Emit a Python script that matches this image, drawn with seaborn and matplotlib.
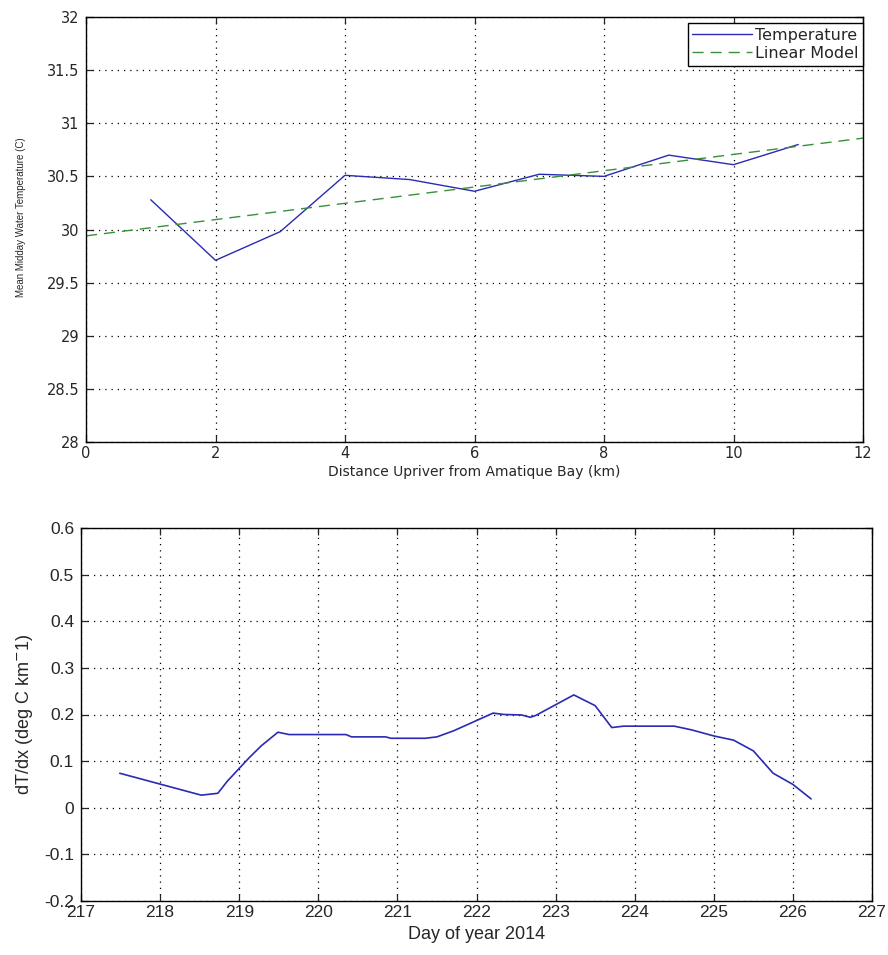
import numpy as np
import pandas as pd
import matplotlib
matplotlib.use('Agg')
import matplotlib.pyplot as plt
import seaborn as sns

# --- data ---
distance_km = [1, 2, 3, 4, 5, 6, 7, 8, 9, 10, 11]
mean_temp = [30.28, 29.71, 29.98, 30.51, 30.47, 30.36, 30.52, 30.50, 30.70, 30.61, 30.80]

model_x = [0, 12]
model_y = [29.94, 30.86]

day_of_year = [217.49, 218.52, 218.73, 218.85, 219.13, 219.28, 219.49, 219.63, 220.35,
               220.42, 220.85, 220.92, 221.35, 221.50, 221.71, 222.21, 222.35, 222.57,
               222.68, 222.75, 223.23, 223.50, 223.71, 223.86, 224.50, 224.72, 225.00,
               225.25, 225.50, 225.75, 226.00, 226.23]
dTdx = [0.074, 0.027, 0.031, 0.057, 0.108, 0.133, 0.162, 0.157, 0.157,
        0.152, 0.152, 0.149, 0.149, 0.152, 0.165, 0.203, 0.200, 0.199,
        0.194, 0.198, 0.242, 0.219, 0.172, 0.175, 0.175, 0.167, 0.154,
        0.145, 0.122, 0.074, 0.050, 0.019]

sns.set_style('white')
plt.rcParams['font.family'] = ['Liberation Sans', 'DejaVu Sans']

fig = plt.figure(figsize=(8.88, 9.55), dpi=100)
W, H = 888, 955
ax1 = fig.add_axes([86 / W, 1 - 442 / H, (863 - 86) / W, (442 - 17) / H])
ax2 = fig.add_axes([81 / W, 1 - 901 / H, (872 - 81) / W, (901 - 528) / H])

blue = '#2a2ab4'
green = '#3a8f3a'
wide = ['DejaVu Sans']

# --- top panel ---
sns.lineplot(x=distance_km, y=mean_temp, ax=ax1, color=blue, linewidth=1.0,
             sort=False, label='Temperature')
sns.lineplot(x=model_x, y=model_y, ax=ax1, color=green, linewidth=1.0,
             linestyle=(0, (8, 5)), label='Linear Model')
ax1.set_xlim(0, 12)
ax1.set_ylim(28, 32)
ax1.set_xticks(np.arange(0, 13, 2))
ax1.set_yticks(np.arange(28, 32.01, 0.5))
ax1.set_yticklabels(['28', '28.5', '29', '29.5', '30', '30.5', '31', '31.5', '32'])
ax1.set_xlabel('Distance Upriver from Amatique Bay (km)', fontsize=10, family=wide, labelpad=3)
ax1.set_ylabel('Mean Midday Water Temperature (C)', fontsize=7)
ax1.yaxis.set_label_coords(-0.077, 0.53)
leg = ax1.legend(loc='upper right', bbox_to_anchor=(1.0, 0.986), borderaxespad=0,
                 prop={'family': wide, 'size': 11.5}, handlelength=3.7,
                 fancybox=False, edgecolor='black', framealpha=1, borderpad=0.3,
                 labelspacing=0.2, handletextpad=0.2)
leg.get_frame().set_linewidth(1.0)
for lab in ax1.get_xticklabels() + ax1.get_yticklabels():
    lab.set_family(wide)

# --- bottom panel ---
sns.lineplot(x=day_of_year, y=dTdx, ax=ax2, color=blue, linewidth=1.2, sort=False)
ax2.set_xlim(217, 227)
ax2.set_ylim(-0.2, 0.6)
ax2.set_xticks(np.arange(217, 228, 1))
ax2.set_yticks(np.arange(-0.2, 0.61, 0.1))
ax2.set_yticklabels(['-0.2', '-0.1', '0', '0.1', '0.2', '0.3', '0.4', '0.5', '0.6'])
ax2.set_xlabel('Day of year 2014', fontsize=13, labelpad=4)
ax2.set_ylabel('dT/dx (deg C km$^{-}$1)', fontsize=13)
ax2.yaxis.set_label_coords(-0.058, 0.5)

for ax, fs, pad in [(ax1, 10.5, 5), (ax2, 12.5, 5)]:
    ax.grid(True, linestyle=(0, (1, 4)), color='black', linewidth=0.9)
    ax.tick_params(axis='both', direction='in', length=5, width=0.9,
                   top=True, right=True, labelsize=fs, pad=pad,
                   bottom=True, left=True)
    ax.tick_params(axis='x', pad=3)
    for s in ax.spines.values():
        s.set_color('black')
        s.set_linewidth(1.0)
        s.set_visible(True)

fig.savefig('out.png', dpi=100, facecolor='white')
